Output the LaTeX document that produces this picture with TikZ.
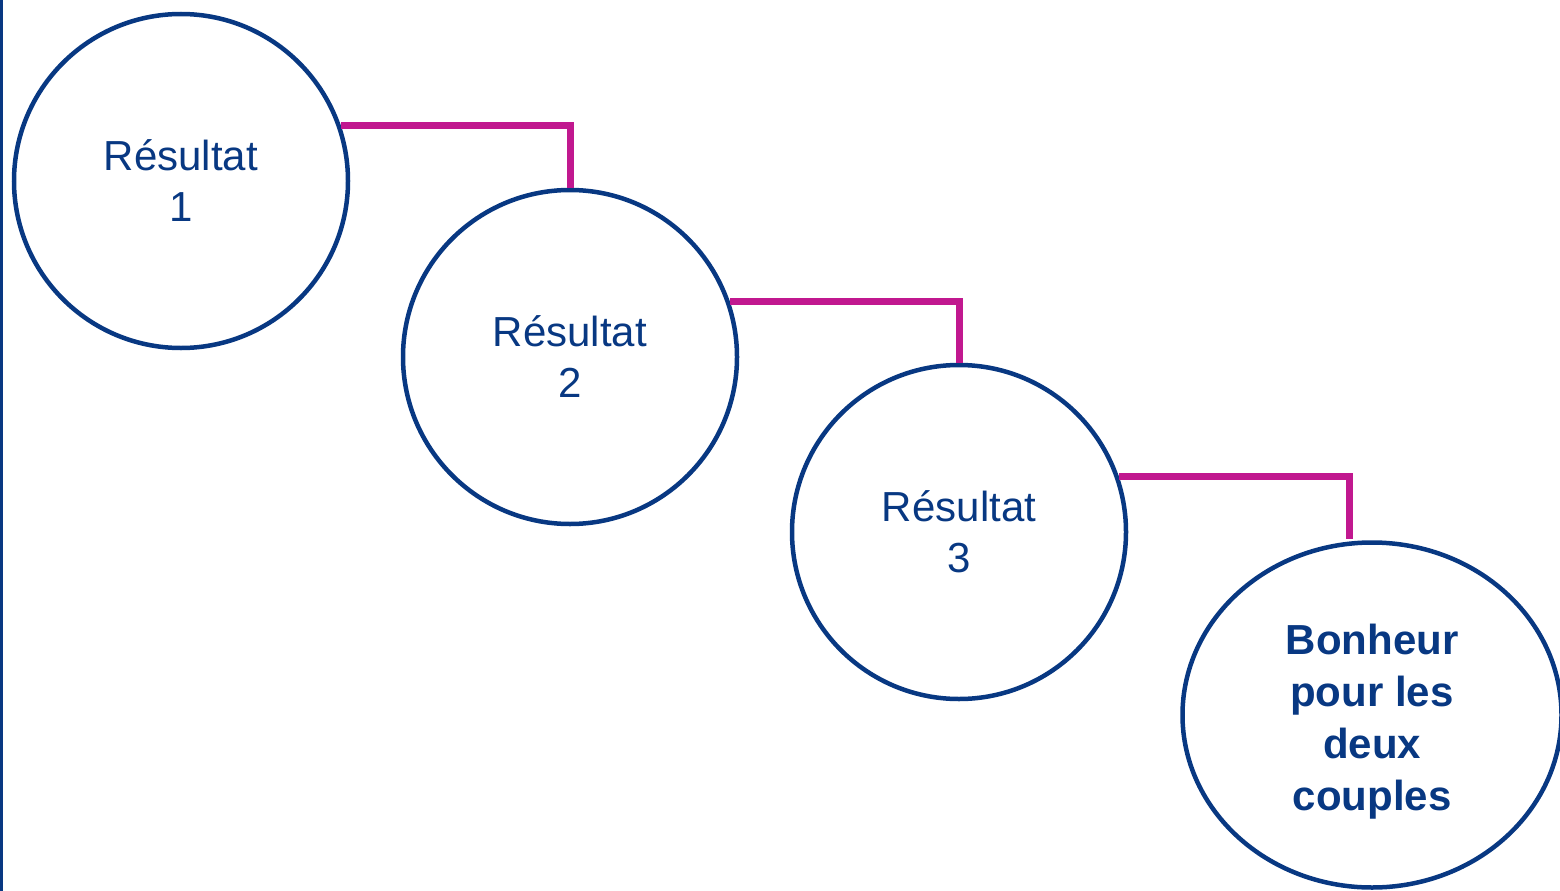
\documentclass[tikz,border=0pt]{standalone}
\usepackage{fontspec}
\setmainfont{Liberation Sans}
\usetikzlibrary{shapes.geometric}
\definecolor{navy}{RGB}{8,56,130}
\definecolor{magen}{RGB}{193,24,143}
\begin{document}
\begin{tikzpicture}[x=1pt,y=-1pt,
  res/.style={circle,draw=navy,line width=4.5pt,minimum size=334pt,inner sep=0pt,align=center,text=navy,font=\fontsize{42}{51}\selectfont},
  fin/.style={ellipse,draw=navy,line width=4.5pt,minimum width=379pt,minimum height=345pt,inner sep=0pt},
  fintext/.style={align=center,text=navy,font=\fontsize{42}{52}\selectfont\bfseries},
  link/.style={draw=magen,line width=7pt}]
\useasboundingbox (0,0) rectangle (1560,891);
\clip (0,0) rectangle (1560,891);
\fill[navy] (0,0) rectangle (3,891);
\node[res] (c1) at (181,181) {Résultat\\1};
\node[res] (c2) at (570,357) {Résultat\\2};
\node[res] (c3) at (959,532) {Résultat\\3};
\node[fin] (e) at (1372,715) {};
\node[fintext,yshift=-7pt] (et) at (e.center) {Bonheur\\pour les\\deux\\couples};
\draw[link] (c1.19) -| (c2.north);
\draw[link] (c2.19) -| (c3.north);
\draw[link] (c3.19) -| ([xshift=-23pt,yshift=1pt]e.north);
\end{tikzpicture}
\end{document}
